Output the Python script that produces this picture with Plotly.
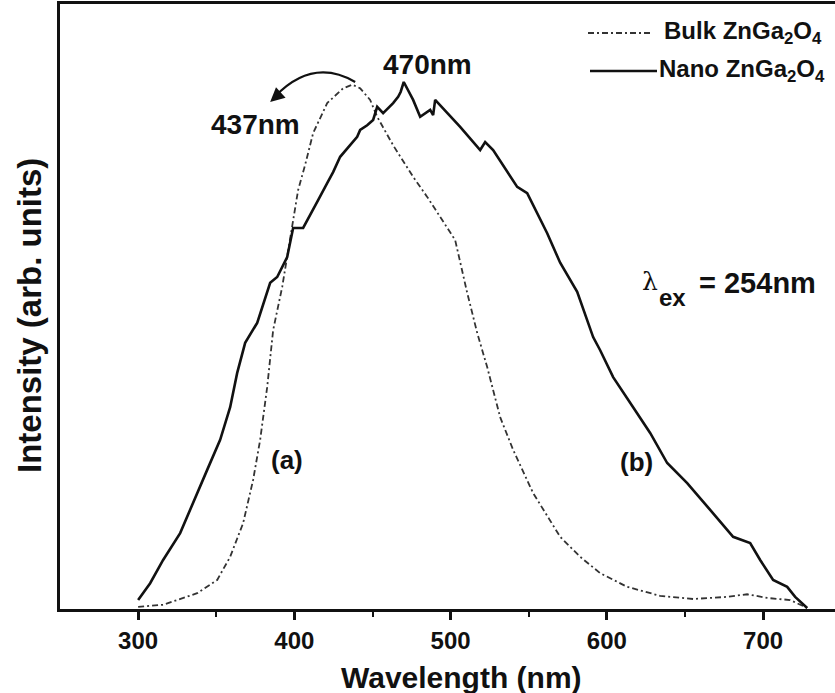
import plotly.graph_objects as go

# Photoluminescence emission spectra (normalised intensity)
bulk_nm = [300.0, 316.0, 337.8, 350.6, 358.9, 367.2, 373.6, 378.1, 382.6, 386.4,
           392.2, 395.4, 399.2, 402.4, 406.9, 412.0, 421.0, 431.2, 437.0, 442.1,
           448.5, 453.0, 463.2, 476.0, 485.0, 502.9, 510.6, 517.0, 523.4, 531.7,
           540.0, 552.8, 570.1, 582.9, 595.7, 613.0, 634.1, 655.2, 677.0, 689.8,
           702.6, 717.3, 728.2]
bulk_int = [0.004, 0.008, 0.030, 0.055, 0.099, 0.163, 0.245, 0.321, 0.421, 0.529,
            0.611, 0.668, 0.738, 0.795, 0.843, 0.903, 0.960, 0.988, 0.995, 0.988,
            0.966, 0.934, 0.880, 0.820, 0.782, 0.700, 0.600, 0.524, 0.459, 0.364,
            0.302, 0.220, 0.137, 0.099, 0.068, 0.042, 0.025, 0.019, 0.023, 0.028,
            0.021, 0.017, 0.002]

nano_nm = [300.0, 307.7, 316.0, 326.9, 344.2, 352.5, 358.9, 363.4, 368.5, 376.2,
           384.5, 389.0, 395.4, 399.2, 405.6, 412.0, 415.2, 421.0, 424.8, 429.3,
           440.2, 442.1, 446.6, 450.4, 453.0, 456.8, 463.2, 466.4, 468.0, 470.0,
           474.1, 476.0, 480.5, 486.9, 488.8, 490.1, 506.1, 518.9, 522.1, 527.2,
           542.6, 549.0, 561.8, 570.1, 581.0, 591.2, 595.7, 604.0, 616.8, 627.7,
           638.6, 651.4, 666.1, 680.8, 691.7, 698.1, 706.4, 715.4, 720.5, 728.2]
nano_int = [0.017, 0.049, 0.093, 0.144, 0.264, 0.321, 0.383, 0.448, 0.505, 0.543,
            0.619, 0.630, 0.668, 0.723, 0.723, 0.757, 0.776, 0.808, 0.829, 0.858,
            0.896, 0.909, 0.918, 0.928, 0.953, 0.941, 0.960, 0.972, 0.981, 1.000,
            0.975, 0.966, 0.934, 0.947, 0.937, 0.966, 0.915, 0.871, 0.886, 0.871,
            0.801, 0.789, 0.713, 0.657, 0.602, 0.516, 0.491, 0.440, 0.383, 0.334,
            0.277, 0.239, 0.188, 0.137, 0.125, 0.093, 0.055, 0.042, 0.023, 0.002]

x_ticks = [300, 400, 500, 600, 700]

FONT = "Liberation Sans, Arial, sans-serif"
W, H = 835, 693
L, R, T, B = 60, 0, 4, 84


def px(xp):
    """Horizontal pixel -> paper fraction of the plot area."""
    return (xp - L) / (W - L - R)


def py(yp):
    """Vertical pixel -> paper fraction of the plot area."""
    return (H - B - yp) / (H - B - T)


fig = go.Figure()
fig.add_trace(go.Scatter(x=bulk_nm, y=bulk_int, mode="lines", name="Bulk ZnGa2O4",
                         line=dict(color="#333333", width=1.8, dash="6px,3px,2px,3px"),
                         showlegend=False))
fig.add_trace(go.Scatter(x=nano_nm, y=nano_int, mode="lines", name="Nano ZnGa2O4",
                         line=dict(color="#111111", width=2.6),
                         showlegend=False))

# hand-drawn style legend
fig.add_shape(type="line", xref="paper", yref="paper", x0=px(588), x1=px(652),
              y0=py(33), y1=py(33), line=dict(color="#333333", width=1.8, dash="6px,3px,2px,3px"))
fig.add_shape(type="line", xref="paper", yref="paper", x0=px(590), x1=px(657),
              y0=py(71), y1=py(71), line=dict(color="#111111", width=2.6))

ann = []
leg_font = dict(family=FONT, size=24, color="#111", weight="bold")
ann.append(dict(xref="paper", yref="paper", x=px(662), y=py(32), xanchor="left", yanchor="middle",
                text="Bulk ZnGa<sub>2</sub>O<sub>4</sub>", showarrow=False, font=leg_font))
ann.append(dict(xref="paper", yref="paper", x=px(657), y=py(70), xanchor="left", yanchor="middle",
                text="Nano ZnGa<sub>2</sub>O<sub>4</sub>", showarrow=False, font=leg_font))

# peak labels and curve labels
lab = dict(family=FONT, size=28, color="#111", weight="bold")
ann.append(dict(x=374.9, y=0.920, text="437nm", showarrow=False, font=lab))
ann.append(dict(x=485.0, y=1.034, text="470nm", showarrow=False, font=lab))
ann.append(dict(x=395.4, y=0.283, text="(a)", showarrow=False,
                font=dict(family=FONT, size=26, color="#111", weight="bold")))
ann.append(dict(x=618.7, y=0.279, text="(b)", showarrow=False,
                font=dict(family=FONT, size=26, color="#111", weight="bold")))

# excitation wavelength
ann.append(dict(x=627.3, y=0.621, text="λ", showarrow=False,
                font=dict(family="DejaVu Serif, serif", size=25, color="#111")))
ann.append(dict(x=642.3, y=0.592, text="ex", showarrow=False,
                font=dict(family=FONT, size=24, color="#111", weight="bold")))
ann.append(dict(x=657.5, y=0.619, xanchor="left", text="= 254nm", showarrow=False,
                font=dict(family=FONT, size=29, color="#111", weight="bold")))

# curved arrow from the bulk peak toward its label
fig.add_shape(type="path", xref="x", yref="y",
              path="M 438.9,1.000 Q 411.7,1.047 387.5,0.972",
              line=dict(color="#111111", width=2.2))
ann.append(dict(x=384.5, y=0.962, ax=10, ay=-9, axref="pixel", ayref="pixel",
                text="", showarrow=True, arrowhead=2, arrowsize=1.3, arrowwidth=2.2,
                arrowcolor="#111111"))

# axis titles
ann.append(dict(xref="paper", yref="paper", x=px(461), y=py(677), xanchor="center", yanchor="middle",
                text="Wavelength (nm)", showarrow=False,
                font=dict(family=FONT, size=30, color="#111", weight="bold")))
ann.append(dict(xref="paper", yref="paper", x=px(29), y=py(316), xanchor="center", yanchor="middle",
                text="Intensity (arb. units)", textangle=-90, showarrow=False,
                font=dict(family=FONT, size=33, color="#111", weight="bold")))

fig.update_layout(
    width=W, height=H,
    margin=dict(l=L, r=R, t=T, b=B, pad=0),
    paper_bgcolor="white", plot_bgcolor="white",
    annotations=ann,
    xaxis=dict(range=[250, 746], tickvals=x_ticks, ticktext=[str(v) for v in x_ticks],
               ticks="outside", ticklen=8, tickwidth=2.5, tickcolor="#111",
               showline=True, linewidth=2.8, linecolor="#111", mirror=True,
               showgrid=False, zeroline=False,
               minor=dict(tickvals=[350, 450, 550, 650], ticks="outside", ticklen=5,
                          tickwidth=2.2, tickcolor="#111"),
               tickfont=dict(family=FONT, size=24, color="#111", weight="bold")),
    yaxis=dict(range=[0, 1.148], showticklabels=False, ticks="",
               showline=True, linewidth=2.8, linecolor="#111", mirror=False,
               showgrid=False, zeroline=False),
)

fig.write_html("out.html")
